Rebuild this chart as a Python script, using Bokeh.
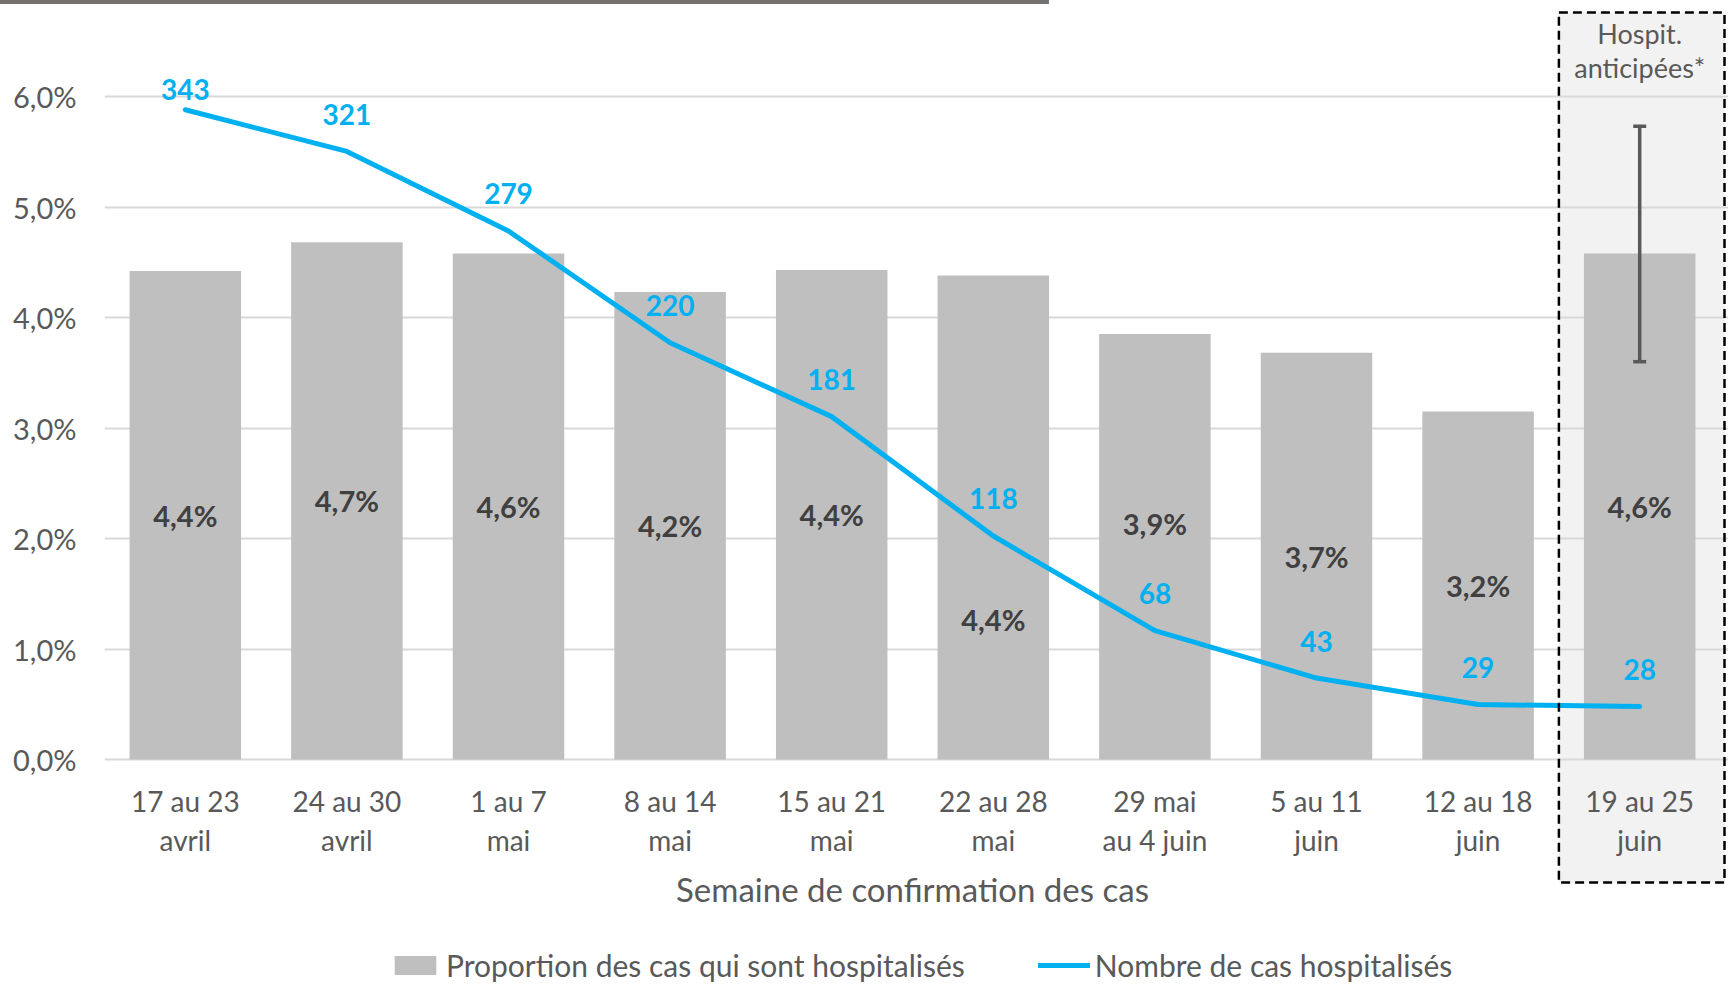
from bokeh.plotting import figure
from bokeh.layouts import column
from bokeh.models import (Range1d, LinearAxis, FixedTicker, ColumnDataSource, Whisker,
                          TeeHead, Legend, LegendItem, Grid, Div)
from bokeh.core.properties import value
from bokeh.embed import file_html
from bokeh.resources import INLINE

# ---------------- data ----------------
categories = ["17 au 23\navril", "24 au 30\navril", "1 au 7\nmai", "8 au 14\nmai",
              "15 au 21\nmai", "22 au 28\nmai", "29 mai\nau 4 juin", "5 au 11\njuin",
              "12 au 18\njuin", "19 au 25\njuin"]
proportion_pct = [4.42, 4.68, 4.58, 4.23, 4.43, 4.38, 3.85, 3.68, 3.15, 4.58]
proportion_labels = ["4,4%", "4,7%", "4,6%", "4,2%", "4,4%", "4,4%", "3,9%", "3,7%", "3,2%", "4,6%"]
hospitalized = [343, 321, 279, 220, 181, 118, 68, 43, 29, 28]
y_ticks = [0, 1, 2, 3, 4, 5, 6]
y_tick_labels = ["0,0%", "1,0%", "2,0%", "3,0%", "4,0%", "5,0%", "6,0%"]
anticipated_low = [3.60]
anticipated_high = [5.73]
anticipated_note = ["Hospit.", "anticipées*"]
x_title = "Semaine de confirmation des cas"
legend_bar = "Proportion des cas qui sont hospitalisés"
legend_line = "Nombre de cas hospitalisés"
count_axis_max = 350  # secondary axis max aligned with 6,0%

# ---------------- layout ----------------
TOP_BAR = 4
W, H = 1728, 986 - TOP_BAR
LEFT = 104
BASE_PX = 759 - TOP_BAR     # pixel row of 0 % from the top of the figure
PX_PER_PCT = 110.5
CAT_PX = 161.6
Y1 = BASE_PX / PX_PER_PCT
Y0 = -(H - BASE_PX) / PX_PER_PCT
n = len(categories)
xs = list(range(n))
X0 = -0.5
X1 = X0 + (W - LEFT) / CAT_PX

FONT_NAME = "Lato"
FONT = value(FONT_NAME)
GREY_TXT = "#595959"
BLUE = "#00b0f0"

p = figure(width=W, height=H, x_range=Range1d(X0, X1), y_range=Range1d(Y0, Y1),
           output_backend="svg", toolbar_location=None,
           x_axis_location=None, y_axis_location=None,
           min_border_left=LEFT, min_border_right=0, min_border_top=0, min_border_bottom=0,
           outline_line_color=None, background_fill_color="white")
p.center = [r for r in p.center if not isinstance(r, Grid)]

scale = count_axis_max / y_ticks[-1]
p.extra_y_ranges = {"count": Range1d(Y0 * scale, Y1 * scale)}

# y axis
yax = LinearAxis(ticker=FixedTicker(ticks=y_ticks),
                 major_label_overrides={t: l for t, l in zip(y_ticks, y_tick_labels)},
                 axis_line_color=None, major_tick_line_color=None, minor_tick_line_color=None,
                 major_label_text_font=FONT_NAME, major_label_text_font_size="29px",
                 major_label_text_color=GREY_TXT, major_label_standoff=22)
p.add_layout(yax, "left")

grid = Grid(dimension=1, ticker=FixedTicker(ticks=y_ticks), grid_line_color="#d9d9d9",
            grid_line_width=2)
p.add_layout(grid)

# anticipated box (last category)
last = n - 1
box_left = last - 0.5
box_right = last + 0.5 + 4 / CAT_PX
box_top = Y1 - (12 - TOP_BAR) / PX_PER_PCT
box_bottom = -123 / PX_PER_PCT
p.quad(left=[box_left], right=[box_right], bottom=[box_bottom], top=[box_top],
       fill_color="#f2f2f2", line_color=None, level="image")

# bar label heights: centred in the bar, two moved to avoid the line labels
label_y = [v / 2 for v in proportion_pct]
label_y[5] = 1.27
label_y[6] = 2.14

# bars
src = ColumnDataSource(dict(x=xs, pct=proportion_pct, lab=proportion_labels, laby=label_y,
                            cnt=hospitalized, cnt_txt=[str(v) for v in hospitalized],
                            loff=[-20] + [-37] * (n - 1),
                            l1=[c.split("\n")[0] for c in categories],
                            l2=[c.split("\n")[1] for c in categories]))
bars = p.vbar(x="x", top="pct", bottom=0, width=0.69, source=src,
              fill_color="#bfbfbf", line_color=None)

# error bar
esrc = ColumnDataSource(dict(x=[last], lo=anticipated_low, hi=anticipated_high))
wh = Whisker(base="x", lower="lo", upper="hi", source=esrc, dimension="height",
             line_color="#595959", line_width=3.5, level="overlay",
             upper_head=TeeHead(size=13, line_color="#595959", line_width=3.5),
             lower_head=TeeHead(size=13, line_color="#595959", line_width=3.5))
p.add_layout(wh)

# line
line = p.line(x="x", y="cnt", source=src, y_range_name="count", line_color=BLUE,
              line_width=5, line_cap="round", line_join="round")

# dashed border
p.quad(left=[box_left], right=[box_right], bottom=[box_bottom], top=[box_top],
       fill_color=None, line_color="black", line_width=2.5, line_dash="9 5")

# bar labels
p.text(x="x", y="laby", text="lab", source=src, text_font=FONT, text_font_size="29px",
       text_font_style="bold", text_color="#404040", text_align="center",
       text_baseline="middle")

# line labels
p.text(x="x", y="cnt", text="cnt_txt", source=src, y_range_name="count",
       y_offset="loff", text_font=FONT, text_font_size="28px", text_font_style="bold",
       text_color=BLUE, text_align="center", text_baseline="middle")

# category labels
p.text(x="x", y=0, text="l1", source=src, y_offset=41, text_font=FONT,
       text_font_size="28px", text_color=GREY_TXT, text_align="center", text_baseline="middle")
p.text(x="x", y=0, text="l2", source=src, y_offset=80, text_font=FONT,
       text_font_size="28px", text_color=GREY_TXT, text_align="center", text_baseline="middle")

# x title
p.text(x=[(n - 1) / 2], y=[0], text=[x_title], y_offset=129, text_font=FONT,
       text_font_size="33px", text_color=GREY_TXT, text_align="center", text_baseline="middle")

# note in the box
p.text(x=[last, last], y=[y_ticks[-1]] * 2, text=anticipated_note, y_offset=[-63, -29],
       text_font=FONT, text_font_size="27px", text_color=GREY_TXT, text_align="center",
       text_baseline="middle")

# legend
legend = Legend(items=[LegendItem(label=legend_bar, renderers=[bars]),
                       LegendItem(label=legend_line, renderers=[line])],
                orientation="horizontal", location=(285, 3),
                glyph_width=52, glyph_height=24, label_standoff=5, spacing=73,
                padding=0, margin=0, background_fill_alpha=0, border_line_color=None,
                label_text_font=FONT_NAME, label_text_font_size="30px", label_text_color=GREY_TXT,
                label_height=24)
p.add_layout(legend)

# top decoration bar of the slide
top_bar = Div(text="", width=1049, height=TOP_BAR, margin=0,
              styles={"background-color": "#767171"})

layout = column(top_bar, p, spacing=0)
open("out.html", "w").write(file_html(layout, INLINE))
